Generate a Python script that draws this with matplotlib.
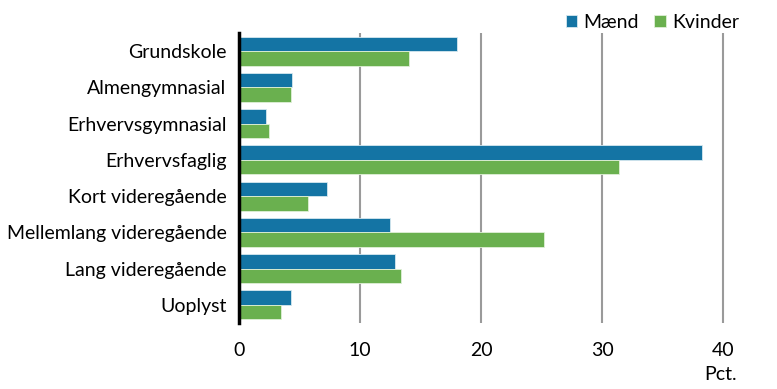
import numpy as np
import matplotlib.pyplot as plt

# data
categories = ["Grundskole", "Almengymnasial", "Erhvervsgymnasial", "Erhvervsfaglig",
              "Kort videregående", "Mellemlang videregående", "Lang videregående", "Uoplyst"]
maend = [18.0, 4.4, 2.2, 38.2, 7.3, 12.5, 12.9, 4.3]
kvinder = [14.0, 4.3, 2.5, 31.4, 5.7, 25.2, 13.4, 3.5]
xticks = [0, 10, 20, 30, 40]

blue = "#1474a4"
green = "#6ab04f"

plt.rcParams["font.family"] = ["Lato", "DejaVu Sans"]

fig = plt.figure(figsize=(7.77, 3.89), dpi=100)
ax = fig.add_axes([0.3076, 0.1697, 0.6624, 0.7453])

y = np.arange(len(categories))
h = 0.4
ax.barh(y - h / 2, maend, height=h, color=blue, edgecolor="#d6e8f0", linewidth=0.6, label="Mænd", zorder=3)
ax.barh(y + h / 2, kvinder, height=h, color=green, edgecolor="#e0f0d8", linewidth=0.6, label="Kvinder", zorder=3)

ax.set_ylim(len(categories) - 0.5, -0.5)
ax.set_xlim(0, 42.5)
ax.set_yticks(y)
ax.set_yticklabels(categories, fontsize=14)
ax.set_xticks(xticks)
ax.set_xticklabels([str(t) for t in xticks], fontsize=14)
ax.tick_params(length=0)
ax.tick_params(axis="x", pad=14)
ax.tick_params(axis="y", pad=9)

for t in xticks[1:]:
    ax.axvline(t, color="#9a9a9a", linewidth=1.5, zorder=1)

for s in ["top", "right", "bottom"]:
    ax.spines[s].set_visible(False)
ax.spines["left"].set_linewidth(2.5)
ax.spines["left"].set_color("black")
ax.spines["left"].set_zorder(4)

fig.text(0.949, 0.015, "Pct.", fontsize=14, ha="right", va="bottom")

leg = ax.legend(loc="lower right", bbox_to_anchor=(0.99, 0.975), ncol=2, frameon=False,
                fontsize=14, handlelength=0.6, handleheight=0.6, handletextpad=0.3,
                columnspacing=0.8, borderaxespad=0.1)

fig.savefig("out.png", dpi=100)
